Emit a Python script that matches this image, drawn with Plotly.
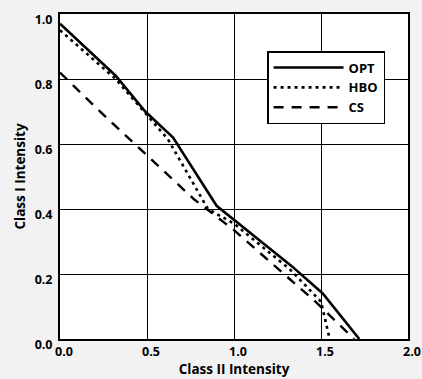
import plotly.graph_objects as go

opt_x = [0.0, 0.32, 0.49, 0.65, 0.90, 1.33, 1.51, 1.72]
opt_y = [0.97, 0.81, 0.70, 0.62, 0.41, 0.225, 0.14, 0.0]

hbo_x = [0.0, 0.32, 0.62, 0.85, 1.0, 1.32, 1.5, 1.55]
hbo_y = [0.95, 0.80, 0.615, 0.40, 0.355, 0.215, 0.115, 0.0]

cs_x = [0.0, 0.22, 0.77, 1.0, 1.47, 1.69]
cs_y = [0.82, 0.705, 0.43, 0.335, 0.114, 0.0]

x_ticks = [0.0, 0.5, 1.0, 1.5, 2.0]
x_labels = ["0.0", "0.5", "1.0", "1.5", "2.0"]
y_ticks = [0.0, 0.2, 0.4, 0.6, 0.8, 1.0]
y_labels = ["0.0", "0.2", "0.4", "0.6", "0.8", "1.0"]

FONT = "Open Sans"

fig = go.Figure()
fig.add_trace(go.Scatter(x=opt_x, y=opt_y, mode="lines", name="OPT",
                         line=dict(color="black", width=2.6)))
fig.add_trace(go.Scatter(x=hbo_x, y=hbo_y, mode="lines", name="HBO",
                         line=dict(color="black", width=2.6, dash="3px,4px")))
fig.add_trace(go.Scatter(x=cs_x, y=cs_y, mode="lines", name="CS",
                         line=dict(color="black", width=2.4, dash="10px,8px")))

fig.update_layout(
    width=422, height=379,
    margin=dict(l=60, r=14, t=14, b=40),
    paper_bgcolor="#f2f2f2",
    plot_bgcolor="white",
    showlegend=True,
    legend=dict(
        x=0.595, y=0.886, xanchor="left", yanchor="top",
        bgcolor="white", bordercolor="black", borderwidth=1.5,
        font=dict(family=FONT, size=13, color="black", weight="bold"),
        itemwidth=70, tracegroupgap=0,
    ),
    xaxis=dict(
        range=[0, 2.0], tickvals=x_ticks, ticktext=x_labels,
        showgrid=True, gridcolor="black", gridwidth=1.3,
        showline=True, linecolor="black", linewidth=2, mirror=True,
        zeroline=False, ticks="", ticklabelshift=4, ticklabeloverflow="allow",
        automargin=False,
        tickfont=dict(family=FONT, size=12.5, color="black", weight="bold"),
        title=dict(text="Class II Intensity", standoff=4,
                   font=dict(family=FONT, size=13.5, color="black", weight="bold")),
    ),
    yaxis=dict(
        range=[0, 1.0], tickvals=y_ticks, ticktext=y_labels,
        showgrid=True, gridcolor="black", gridwidth=1.3,
        showline=True, linecolor="black", linewidth=2, mirror=True,
        zeroline=False, ticks="", ticklabelshift=6, ticklabelstandoff=3,
        ticklabeloverflow="allow", automargin=False,
        tickfont=dict(family=FONT, size=12.5, color="black", weight="bold"),
        title=dict(text="Class I Intensity", standoff=6,
                   font=dict(family=FONT, size=13.5, color="black", weight="bold")),
    ),
)

fig.write_html("out.html")
